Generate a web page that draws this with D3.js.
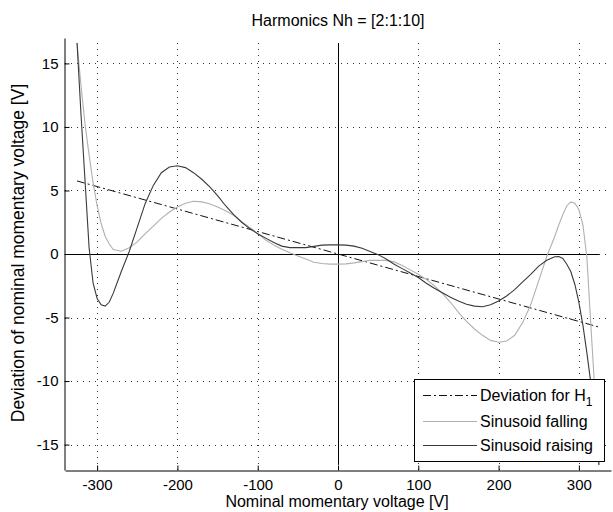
<!DOCTYPE html>
<html>
<head>
<meta charset="utf-8">
<script src="https://cdn.jsdelivr.net/npm/d3@7"></script>
<style>
  html, body { margin: 0; padding: 0; background: #fff; }
  svg { display: block; }
  text { font-family: "Liberation Sans", Arial, Helvetica, sans-serif; fill: #000; }
</style>
</head>
<body>
<svg id="chart" width="613" height="512"></svg>
<script>
// Tick values for both axes
const xTicks = [-300, -200, -100, 0, 100, 200, 300];
const yTicks = [-15, -10, -5, 0, 5, 10, 15];

// Momentary voltage samples [V]
const voltage = [
  -325, -320, -315, -310, -305, -300, -295, -290, -285, -280, -270, -260, -250, -240, -230, -220, -210,
  -200, -190, -180, -170, -160, -150, -140, -130, -120, -110, -100, -90, -80, -70, -60, -50, -40, -30,
  -20, -10, 0, 10, 20, 30, 40, 50, 60, 70, 80, 90, 100, 110, 120, 130, 140, 150, 160, 170, 180, 190,
  200, 210, 220, 230, 240, 250, 260, 270, 275, 280, 285, 290, 295, 300, 305, 310, 315, 320, 325
];

// Deviation while the sinusoid is raising [V]
const raising = [
  16.6, 10.9, 5.7, 0.5, -2.3, -3.5, -4.0, -4.1, -3.8, -3.1, -1.4, 0.2, 2.1, 4.0, 5.4, 6.4, 6.85,
  6.95, 6.8, 6.4, 5.9, 5.3, 4.6, 3.8, 3.1, 2.5, 2.0, 1.6, 1.25, 0.9, 0.62, 0.5, 0.5, 0.5, 0.6,
  0.7, 0.72, 0.72, 0.7, 0.62, 0.45, 0.2, -0.05, -0.4, -0.8, -1.15, -1.5, -1.85, -2.3, -2.7, -3.05, -3.4, -3.7, -3.95, -4.1, -4.15, -4.0,
  -3.7, -3.3, -2.8, -2.2, -1.6, -0.95, -0.5, -0.22, -0.2, -0.35, -0.8, -1.4, -2.4, -3.8, -5.6, -7.8, -10.2, -13.2, -16.6
];

// Deviation while the sinusoid is falling [V]
const falling = [
  16.6, 13.2, 10.2, 7.8, 5.6, 3.8, 2.4, 1.4, 0.8, 0.35, 0.22, 0.5, 0.95, 1.6, 2.2, 2.8, 3.3,
  3.7, 4.0, 4.15, 4.1, 3.95, 3.7, 3.4, 3.05, 2.55, 2.1, 1.6, 1.1, 0.7, 0.38, 0.1, -0.15, -0.4, -0.65,
  -0.75, -0.8, -0.8, -0.78, -0.7, -0.6, -0.5, -0.5, -0.5, -0.62, -0.9, -1.25, -1.6, -2.0, -2.5, -3.1, -3.8, -4.6, -5.3, -5.9, -6.4, -6.8,
  -6.95, -6.85, -6.4, -5.4, -4.0, -2.1, -0.2, 1.4, 2.3, 3.1, 3.8, 4.1, 4.0, 3.5, 2.3, -0.3, -5.7, -10.9, -16.6
];

// Deviation caused by the fundamental H1 alone (straight line)
const h1Voltage = [-325, 325];
const h1Deviation = [5.75, -5.75];

// Reference lines through the origin
const zeroLineX = [-340, 325];
const zeroLineY = [-16.6, 16.6];

const svg = d3.select("#chart");
const W = 613, H = 512;
const margin = { left: 65, right: 2, top: 38, bottom: 42 };

const x = d3.scaleLinear().domain([-340, 340]).range([margin.left, W - margin.right]);
const y = d3.scaleLinear().domain([-17, 17]).range([H - margin.bottom, margin.top]);

svg.append("rect").attr("width", W).attr("height", H).attr("fill", "#fff");

// Dotted grid
const grid = svg.append("g").attr("stroke", "#333").attr("stroke-width", 1)
  .attr("stroke-dasharray", "1,5").attr("shape-rendering", "crispEdges");
grid.selectAll("line.gx").data(xTicks).join("line")
  .attr("x1", d => Math.round(x(d)) + 0.5).attr("x2", d => Math.round(x(d)) + 0.5)
  .attr("y1", y.range()[0]).attr("y2", y.range()[1]);
grid.selectAll("line.gy").data(yTicks).join("line")
  .attr("y1", d => Math.round(y(d)) + 0.5).attr("y2", d => Math.round(y(d)) + 0.5)
  .attr("x1", x.range()[0]).attr("x2", x.range()[1]);

// Zero reference lines
svg.append("line")
  .attr("x1", x(zeroLineX[0])).attr("x2", x(zeroLineX[1]))
  .attr("y1", Math.round(y(0)) + 0.5).attr("y2", Math.round(y(0)) + 0.5)
  .attr("stroke", "#000").attr("stroke-width", 1);
svg.append("line")
  .attr("x1", Math.round(x(0)) + 0.5).attr("x2", Math.round(x(0)) + 0.5)
  .attr("y1", y(zeroLineY[0])).attr("y2", y(zeroLineY[1]))
  .attr("stroke", "#000").attr("stroke-width", 1);

// Axes with inward ticks
const xAxis = d3.axisBottom(x).tickValues(xTicks).tickSizeInner(-5).tickSizeOuter(0).tickPadding(9);
const yAxis = d3.axisLeft(y).tickValues(yTicks).tickSizeInner(-5).tickSizeOuter(0).tickPadding(6);

const gx = svg.append("g").attr("transform", `translate(0,${H - margin.bottom + 0.5})`).call(xAxis);
const gy = svg.append("g").attr("transform", `translate(${margin.left - 0.5},0)`).call(yAxis);
[gx, gy].forEach(g => {
  g.select(".domain").attr("stroke", "#000");
  g.selectAll(".tick line").attr("stroke", "#000");
  g.selectAll(".tick text").attr("font-size", 15)
    .attr("font-family", "'Liberation Sans', Arial, sans-serif").attr("fill", "#000")
    .text(d => d < 0 ? "-" + Math.abs(d) : String(d));
});

// Curves
const line = d3.line().x(d => x(d[0])).y(d => y(d[1])).curve(d3.curveLinear);
const raisingPts = voltage.map((v, i) => [v, raising[i]]);
const fallingPts = voltage.map((v, i) => [v, falling[i]]);
const h1Pts = h1Voltage.map((v, i) => [v, h1Deviation[i]]);

svg.append("path").datum(h1Pts).attr("d", line)
  .attr("fill", "none").attr("stroke", "#111").attr("stroke-width", 1)
  .attr("stroke-dasharray", "8,3,2,3");
svg.append("path").datum(fallingPts).attr("d", line)
  .attr("fill", "none").attr("stroke", "#b0b0b0").attr("stroke-width", 1.1);
svg.append("path").datum(raisingPts).attr("d", line)
  .attr("fill", "none").attr("stroke", "#3a3a3a").attr("stroke-width", 1.1);

// Title and axis labels
svg.append("text").attr("x", 338).attr("y", 26).attr("text-anchor", "middle")
  .attr("font-size", 16).text("Harmonics Nh = [2:1:10]");
svg.append("text").attr("x", 337).attr("y", 507).attr("text-anchor", "middle")
  .attr("font-size", 16).text("Nominal momentary voltage [V]");
svg.append("text").attr("transform", `translate(24,253) rotate(-90)`).attr("text-anchor", "middle")
  .attr("font-size", 17.5).text("Deviation of nominal momentary voltage [V]");

// Legend
const legend = svg.append("g");
legend.append("rect").attr("x", 414.5).attr("y", 379.5).attr("width", 190).attr("height", 82)
  .attr("fill", "#fff").attr("stroke", "#000").attr("stroke-width", 1);
const entries = [
  { y: 395, stroke: "#111", dash: "8,3,2,3", label: "Deviation for H", sub: "1" },
  { y: 421, stroke: "#b0b0b0", dash: null, label: "Sinusoid falling" },
  { y: 445, stroke: "#3a3a3a", dash: null, label: "Sinusoid raising" }
];
entries.forEach(e => {
  legend.append("line").attr("x1", 423).attr("x2", 477).attr("y1", e.y + 0.5).attr("y2", e.y + 0.5)
    .attr("stroke", e.stroke).attr("stroke-width", 1).attr("stroke-dasharray", e.dash);
  const t = legend.append("text").attr("x", 480).attr("y", e.y + 5.5).attr("font-size", 16).text(e.label);
  if (e.sub) t.append("tspan").attr("dy", 5).attr("font-size", 12).text(e.sub);
});
</script>
</body>
</html>
